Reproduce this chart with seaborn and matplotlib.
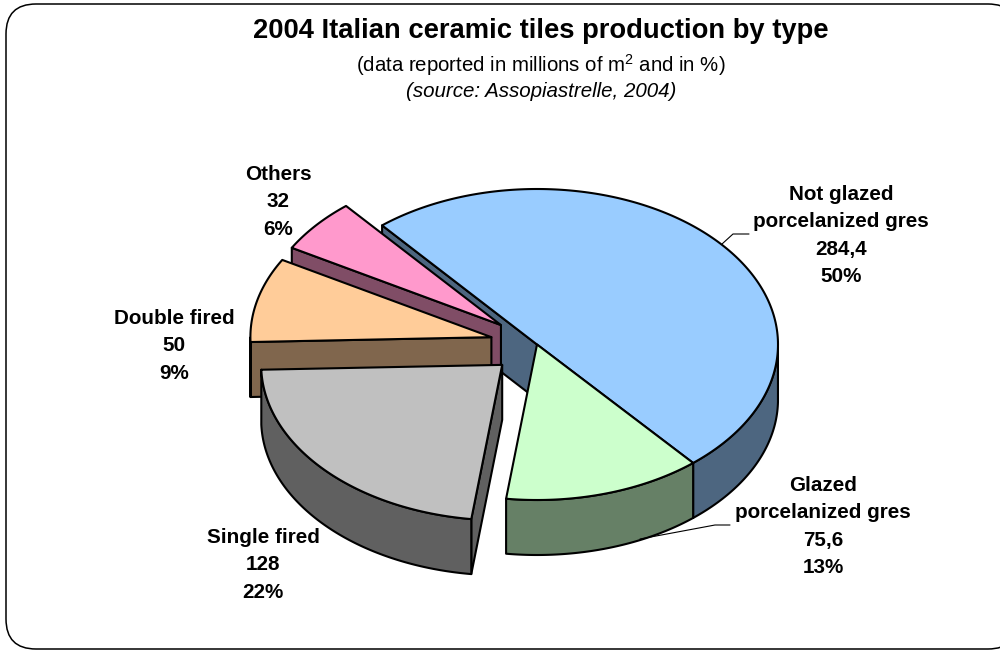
import numpy as np
import matplotlib
matplotlib.use("Agg")
import matplotlib.pyplot as plt
from matplotlib.patches import FancyBboxPatch
import seaborn as sns

# data
types = ["Not glazed\nporcelanized gres", "Glazed\nporcelanized gres", "Single fired", "Double fired", "Others"]
production = [284.4, 75.6, 128, 50, 32]
exploded = [False, False, True, True, True]
top_colors = ["#99CCFF", "#CCFFCC", "#C0C0C0", "#FFCC99", "#FF99CC"]
side_colors = ["#4D6680", "#668066", "#606060", "#80664D", "#804D66"]
draw_order = [0, 1, 4, 3, 2]
label_x = [841, 823, 263, 174, 278]
label_y = [194.5, 485.5, 537.5, 318.5, 174.5]

title = "2004 Italian ceramic tiles production by type"
subtitle = "(data reported in millions of m$^{2}$ and in %)"
source = "(source: Assopiastrelle, 2004)"

# pie geometry, in pixels
CX, CY = 537, 344.5
RX, RY = 241, 155.5
DEPTH = 55
EXPLODE = 0.195
START = 130.0

sns.set_theme(style="white")
plt.rcParams['font.family'] = ['Liberation Sans', 'DejaVu Sans']
plt.rcParams['mathtext.default'] = 'regular'

fig = plt.figure(figsize=(10, 6.5), dpi=100)
ax = fig.add_axes([0, 0, 1, 1])
ax.set_xlim(0, 1000)
ax.set_ylim(650, 0)
ax.axis('off')

ax.add_patch(FancyBboxPatch((6, 4), 1012, 645, boxstyle="round,pad=0,rounding_size=30",
                            fc="white", ec="black", lw=1.1))


def ellipse(cx, cy, t):
    return cx + RX * np.cos(t), cy - RY * np.sin(t)


def poly(xs, ys, color):
    ax.fill(xs, ys, facecolor=color, edgecolor="black", lw=1.5, joinstyle="round")


total = sum(production)
sweeps = [v / total * 360 for v in production]
ends = START - np.cumsum(sweeps)
starts = ends + np.array(sweeps)

for i in draw_order:
    t0, t1 = np.radians(starts[i]), np.radians(ends[i])
    cx, cy = CX, CY
    if exploded[i]:
        mid = (t0 + t1) / 2
        cx += EXPLODE * RX * np.cos(mid)
        cy -= EXPLODE * RY * np.sin(mid)
    t = np.linspace(t0, t1, 200)
    x, y = ellipse(cx, cy, t)
    # cut faces, only the ones turned towards the viewer
    if np.cos(t0) < 0:
        ex, ey = ellipse(cx, cy, t0)
        poly([cx, ex, ex, cx], [cy, ey, ey + DEPTH, cy + DEPTH], side_colors[i])
    if np.cos(t1) > 0:
        ex, ey = ellipse(cx, cy, t1)
        poly([cx, ex, ex, cx], [cy, ey, ey + DEPTH, cy + DEPTH], side_colors[i])
    # outer wall, front half only
    front = np.sin(t) <= 0
    if front.sum() > 1:
        wx, wy = x[front], y[front]
        poly(np.r_[wx, wx[::-1]], np.r_[wy, wy[::-1] + DEPTH], side_colors[i])
    # top
    poly(np.r_[cx, x], np.r_[cy, y], top_colors[i])

# leader lines
ax.plot([722, 733, 749], [244, 234, 234], color="black", lw=0.8)
ax.plot([640, 715, 730], [539, 525, 525], color="black", lw=0.8)

# labels
LINE = 27.4
for name, v, lx, ly in zip(types, production, label_x, label_y):
    lines = name.split("\n") + [f"{v:g}".replace(".", ","), f"{v / total * 100:.0f}%"]
    for k, s in enumerate(lines):
        ax.text(lx, ly + k * LINE, s, ha="center", va="center", fontsize=14.9, fontweight="bold", color="black")

ax.text(541, 31.5, title, ha="center", va="center", fontsize=19.7, fontweight="bold", color="black")
ax.text(541, 65, subtitle, ha="center", va="center", fontsize=14.7, color="black")
ax.text(541, 91.5, source, ha="center", va="center", fontsize=14.8, style="italic", color="black")

plt.savefig("out.png", dpi=100)
plt.close()
